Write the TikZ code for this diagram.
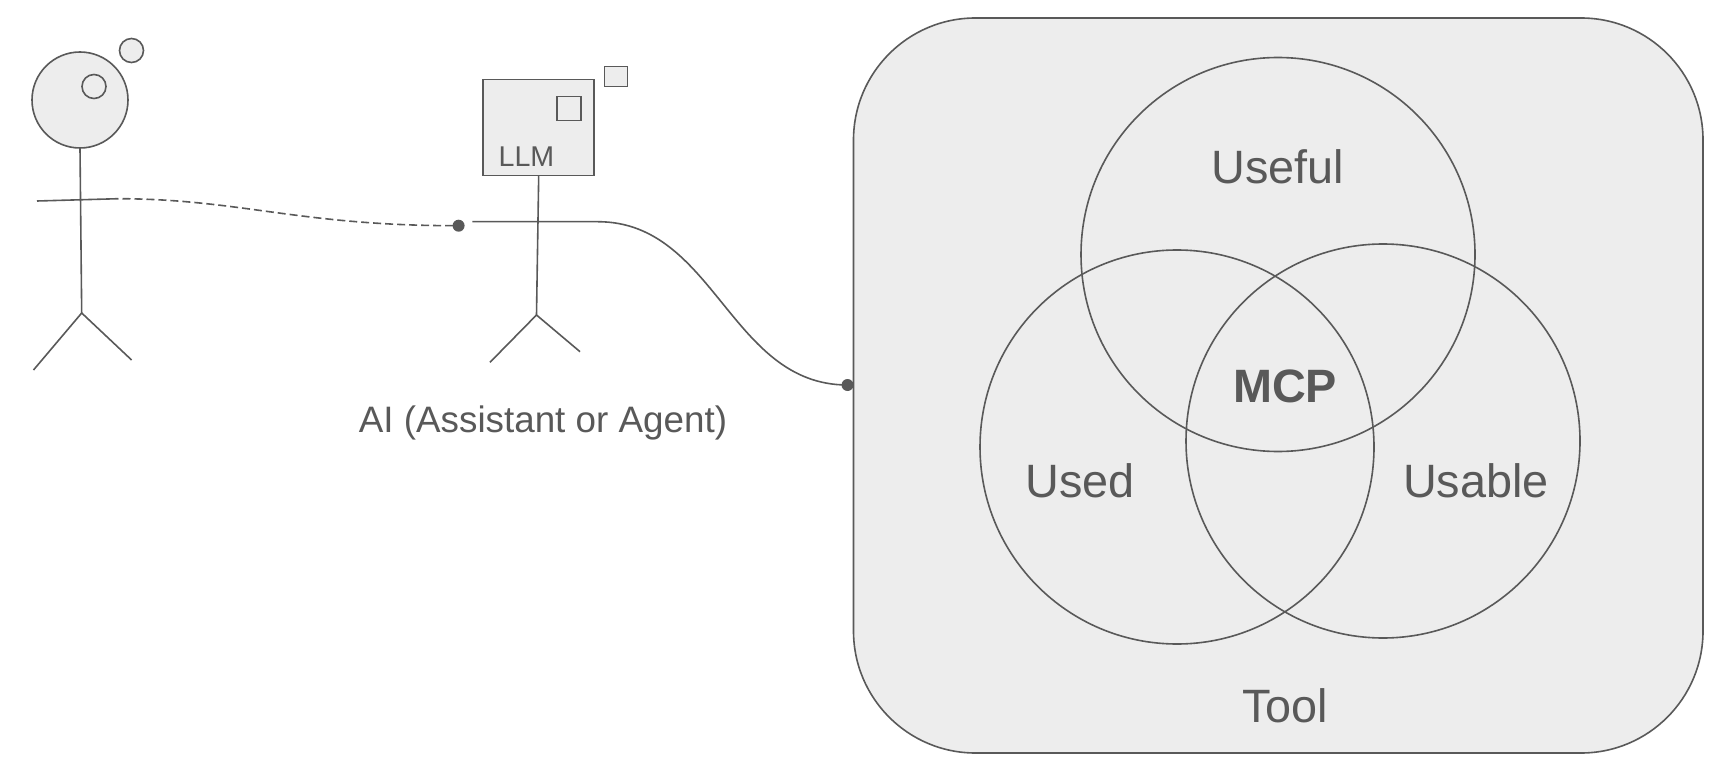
\documentclass[tikz,border=0pt]{standalone}
\usepackage{fontspec}
\setmainfont{Liberation Sans}
\definecolor{ink}{HTML}{595959}
\definecolor{pale}{HTML}{EDEDED}
\tikzset{
	line/.style = {draw=ink, line width = 0.8pt},
	blob/.style = {line, fill=pale, circle, inner sep=0pt, outer sep=0pt, minimum size=#1},
	box/.style = {line, fill=pale, rectangle, inner sep=0pt, outer sep=0pt},
	dot/.style = {fill=ink, circle, inner sep=0pt, outer sep=0pt, minimum size=6pt},
	venn/.style = {line, circle, inner sep=0pt, outer sep=0pt, minimum size=197pt},
	label/.style = {text=ink, anchor=base, inner sep=0pt, font=\fontsize{23.4}{23.4}\selectfont}
}

\begin{document}
\begin{tikzpicture}[x=0.5pt,y=-0.5pt]
		\useasboundingbox (0,0) rectangle (1713,770);
		
		% tool
		\draw [line, fill=pale, rounded corners=61pt] (853.5,18) rectangle (1703,753);
		\foreach \name/\x/\y in {useful/1278/254.5,used/1177/447,usable/1383/441}
			\node [venn] (\name) at (\x,\y) {};
		\node [label] (usefultext) at (1278,184) {Useful};
		\node [label] (usedtext) at (1080,497.5) {Used};
		\node [label] (usabletext) at (1476,497.5) {Usable};
		\node [label, font=\fontsize{23.4}{23.4}\selectfont\bfseries] (mcptext) at (1285,402) {MCP};
		\node [label] (tooltext) at (1285,722) {Tool};
		
		% user
		\node [blob=48pt] (userhead) at (80,100) {};
		\node [blob=12pt, fill=none] (userinner) at (94,86.5) {};
		\node [blob=12pt] (userouter) at (131.5,50.5) {};
		\coordinate (userhip) at (81.7,313);
		\coordinate (userlefthand) at (37,201);
		\coordinate (userrighthand) at (118.5,198.7);
		\coordinate (userleftfoot) at (33.5,370);
		\coordinate (userrightfoot) at (131.6,360);
		\draw [line] (userhead.south) -- (userhip);
		\draw [line] (userlefthand) -- (userrighthand);
		\draw [line] (userleftfoot) -- (userhip) -- (userrightfoot);
		
		% assistant
		\node [box, minimum width=55.5pt, minimum height=48pt] (llm) at (538.7,127.5) {};
		\node [box, fill=none, minimum width=12pt, minimum height=12pt] (llminner) at (569,108.5) {};
		\node [box, minimum width=11.5pt, minimum height=10pt] (llmouter) at (616,76.5) {};
		\node [label, font=\fontsize{14.3}{14.3}\selectfont] (llmtext) at (526.5,167) {LLM};
		\node [label, font=\fontsize{18.4}{18.4}\selectfont] (aitext) at (543,432.5) {AI (Assistant or Agent)};
		\coordinate (aihip) at (536.5,315);
		\coordinate (aihand) at (472.3,221.7);
		\coordinate (aielbow) at (598,221.7);
		\coordinate (aileftfoot) at (490,362.3);
		\coordinate (airightfoot) at (580,351.7);
		\draw [line] (llm.south) -- (aihip);
		\draw [line] (aileftfoot) -- (aihip) -- (airightfoot);
		
		% links
		\node [dot] (aidot) at (458.6,225.7) {};
		\node [dot] (tooldot) at (847.5,385) {};
		\draw [line, dash pattern=on 4pt off 2pt, dash phase=4pt] (userrighthand) .. controls (240,199) and (300,226) .. (aidot.center);
		\draw [line] (aihand) -- (aielbow) .. controls (715,222) and (730,385) .. (tooldot.center);
	\end{tikzpicture}
\end{document}
